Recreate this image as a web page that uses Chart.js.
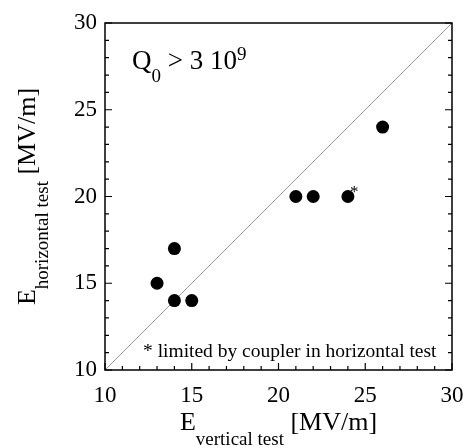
<!DOCTYPE html>
<html>
<head>
<meta charset="utf-8">
<script src="https://cdn.jsdelivr.net/npm/chart.js@4/dist/chart.umd.min.js"></script>
<style>
  body { margin: 0; background: #fff; }
  #wrap { width: 466px; height: 448px; }
</style>
</head>
<body>
<div id="wrap"><canvas id="fieldChart" width="466" height="448"></canvas></div>
<script>
// values
const verticalTest = [13, 14, 14, 15, 21, 22, 24, 26];
const horizontalTest = [15, 17, 14, 14, 20, 20, 20, 24];
const diagonalX = [10, 30];
const diagonalY = [10, 30];
const axisMin = 10;
const axisMax = 30;
const majorStep = 5;
const couplerLimited = { x: 24, y: 20 }; // point marked with *

const serif = "'Liberation Serif', 'Times New Roman', serif";

function points(xs, ys) {
    return xs.map((x, i) => ({ x: x, y: ys[i] }));
}

// draw "main" + subscript + rest, centred on x (used for axis titles)
function drawSubText(ctx, main, sub, rest, x, y, subDrop) {
    ctx.font = "26px " + serif;
    const wMain = ctx.measureText(main).width;
    const wRest = ctx.measureText(rest).width;
    ctx.font = "19px " + serif;
    const wSub = ctx.measureText(sub).width;
    const start = x - (wMain + wSub + wRest) / 2;
    ctx.textAlign = "left";
    ctx.textBaseline = "alphabetic";
    ctx.font = "26px " + serif;
    ctx.fillText(main, start, y);
    ctx.font = "19px " + serif;
    ctx.fillText(sub, start + wMain, y + subDrop);
    ctx.font = "26px " + serif;
    ctx.fillText(rest, start + wMain + wSub, y);
}

const framePlugin = {
    id: "frame",
    afterDraw(chart) {
        const ctx = chart.ctx;
        const area = chart.chartArea;
        const xs = chart.scales.x;
        const ys = chart.scales.y;
        ctx.save();
        ctx.fillStyle = "#000";
        ctx.strokeStyle = "#000";

        // frame
        ctx.lineWidth = 1.5;
        ctx.strokeRect(area.left, area.top, area.right - area.left, area.bottom - area.top);

        // inward ticks
        ctx.lineWidth = 1.2;
        ctx.beginPath();
        for (let v = axisMin; v <= axisMax; v++) {
            const len = v % majorStep === 0 ? 7 : 4;
            const px = xs.getPixelForValue(v);
            ctx.moveTo(px, area.bottom);
            ctx.lineTo(px, area.bottom - len);
            const py = ys.getPixelForValue(v);
            ctx.moveTo(area.left, py);
            ctx.lineTo(area.left + len, py);
            ctx.moveTo(area.right, py);
            ctx.lineTo(area.right - len, py);
        }
        ctx.stroke();

        // Q0 > 3 10^9
        let tx = area.left + 27;
        const ty = area.top + 46;
        ctx.textAlign = "left";
        ctx.textBaseline = "alphabetic";
        ctx.font = "27px " + serif;
        ctx.fillText("Q", tx, ty);
        tx += ctx.measureText("Q").width;
        ctx.font = "19px " + serif;
        ctx.fillText("0", tx, ty + 13);
        tx += ctx.measureText("0").width;
        ctx.font = "27px " + serif;
        ctx.fillText(" > 3 10", tx, ty);
        tx += ctx.measureText(" > 3 10").width;
        ctx.font = "19px " + serif;
        ctx.fillText("9", tx, ty - 9);

        // star next to limited point
        ctx.font = "17px " + serif;
        ctx.fillText("*", xs.getPixelForValue(couplerLimited.x) + 2, ys.getPixelForValue(couplerLimited.y));

        // footnote
        ctx.font = "19.5px " + serif;
        ctx.fillText("* limited by coupler in horizontal test", area.left + 38, area.bottom - 13);

        // axis titles
        const cx = (area.left + area.right) / 2;
        drawSubText(ctx, "E", "vertical test", " [MV/m]", cx, 430, 15);

        const cy = (area.top + area.bottom) / 2;
        ctx.translate(35, cy);
        ctx.rotate(-Math.PI / 2);
        drawSubText(ctx, "E", "horizontal test", " [MV/m]", 0, 0, 13);
        ctx.restore();
    }
};

const tickFont = { family: serif, size: 23 };

new Chart(document.getElementById("fieldChart"), {
    type: "scatter",
    data: {
        datasets: [
            {
                label: "measured",
                data: points(verticalTest, horizontalTest),
                backgroundColor: "#000",
                borderWidth: 0,
                pointRadius: 6.5,
                order: 1
            },
            {
                type: "line",
                label: "E_h = E_v",
                data: points(diagonalX, diagonalY),
                borderColor: "#999",
                borderWidth: 1,
                pointRadius: 0,
                fill: false,
                order: 2
            }
        ]
    },
    options: {
        responsive: false,
        animation: false,
        devicePixelRatio: 1,
        layout: { padding: { top: 23, right: 0, left: 0, bottom: 0 } },
        plugins: { legend: { display: false }, tooltip: { enabled: false } },
        scales: {
            x: {
                type: "linear",
                min: axisMin,
                max: axisMax,
                grid: { display: false, drawTicks: false },
                border: { display: false },
                ticks: {
                    stepSize: 1,
                    autoSkip: false,
                    maxRotation: 0,
                    padding: 12,
                    color: "#000",
                    font: tickFont,
                    callback: v => (v % majorStep === 0 ? v : "")
                },
                afterFit(scale) {
                    scale.height = 78;
                    scale.paddingLeft = 0;
                    scale.paddingRight = 14;
                }
            },
            y: {
                type: "linear",
                min: axisMin,
                max: axisMax,
                grid: { display: false, drawTicks: false },
                border: { display: false },
                ticks: {
                    stepSize: 1,
                    autoSkip: false,
                    padding: 8,
                    color: "#000",
                    font: tickFont,
                    callback: v => (v % majorStep === 0 ? v : "")
                },
                afterFit(scale) {
                    scale.width = 105;
                    scale.paddingTop = 0;
                    scale.paddingBottom = 0;
                }
            }
        }
    },
    plugins: [framePlugin]
});
</script>
</body>
</html>
